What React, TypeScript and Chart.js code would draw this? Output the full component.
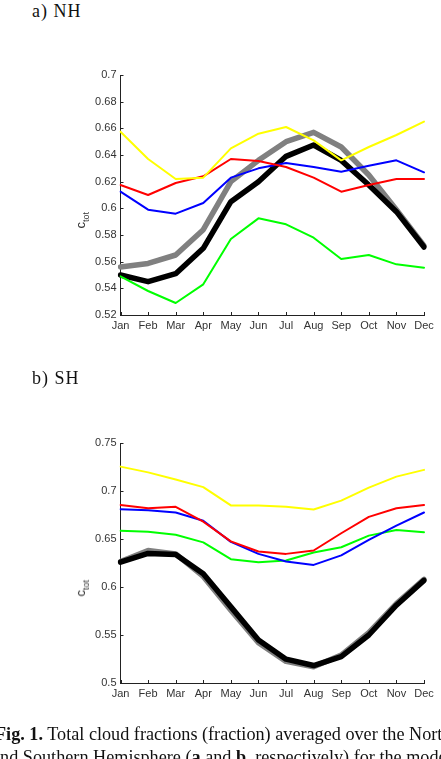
import React, { useEffect, useRef } from "react";
import { Chart, registerables } from "chart.js";

Chart.register(...registerables);

const months = ["Jan", "Feb", "Mar", "Apr", "May", "Jun", "Jul", "Aug", "Sep", "Oct", "Nov", "Dec"];

// Northern Hemisphere
const nhYellow = [0.6575, 0.637, 0.622, 0.623, 0.645, 0.656, 0.661, 0.651, 0.636, 0.646, 0.655, 0.665];
const nhRed = [0.6175, 0.61, 0.619, 0.624, 0.637, 0.6355, 0.631, 0.623, 0.6125, 0.6175, 0.622, 0.622];
const nhBlue = [0.6125, 0.599, 0.596, 0.604, 0.623, 0.63, 0.634, 0.631, 0.6275, 0.632, 0.636, 0.627];
const nhGreen = [0.549, 0.538, 0.529, 0.543, 0.577, 0.5925, 0.588, 0.578, 0.562, 0.565, 0.558, 0.5555];
const nhBlack = [0.55, 0.545, 0.551, 0.57, 0.605, 0.62, 0.639, 0.6475, 0.636, 0.6175, 0.5975, 0.571];
const nhGray = [0.556, 0.5587, 0.565, 0.584, 0.62, 0.636, 0.65, 0.657, 0.646, 0.625, 0.599, 0.572];
const nhTicks = { min: 0.52, max: 0.7, step: 0.02 };

// Southern Hemisphere
const shYellow = [0.7254, 0.7194, 0.712, 0.704, 0.685, 0.685, 0.6835, 0.6807, 0.69, 0.7035, 0.715, 0.722];
const shRed = [0.6855, 0.682, 0.6835, 0.668, 0.6475, 0.637, 0.6345, 0.638, 0.656, 0.673, 0.682, 0.6855];
const shBlue = [0.681, 0.68, 0.6776, 0.669, 0.647, 0.6345, 0.6265, 0.623, 0.633, 0.649, 0.664, 0.6776];
const shGreen = [0.6586, 0.6576, 0.6545, 0.6465, 0.629, 0.6258, 0.6276, 0.636, 0.6414, 0.6535, 0.6593, 0.657];
const shBlack = [0.6258, 0.635, 0.6338, 0.6138, 0.5793, 0.5448, 0.5248, 0.5182, 0.5275, 0.55, 0.581, 0.6069];
const shGray = [0.6265, 0.638, 0.6345, 0.611, 0.5758, 0.542, 0.5225, 0.517, 0.529, 0.5524, 0.5827, 0.608];
const shTicks = { min: 0.5, max: 0.75, step: 0.05 };

const innerTicks = {
  id: "innerTicks",
  afterDraw(chart: any) {
    const ctx = chart.ctx;
    const x = chart.scales.x;
    const y = chart.scales.y;
    const a = chart.chartArea;
    ctx.save();
    ctx.strokeStyle = "#222";
    ctx.lineWidth = 1;
    ctx.beginPath();
    y.ticks.forEach((_t: any, i: number) => {
      const py = Math.round(y.getPixelForTick(i)) + 0.5;
      ctx.moveTo(a.left, py);
      ctx.lineTo(a.left + 3, py);
    });
    x.ticks.forEach((_t: any, i: number) => {
      const px = Math.round(x.getPixelForTick(i)) + 0.5;
      ctx.moveTo(px, a.bottom);
      ctx.lineTo(px, a.bottom - 3);
    });
    ctx.stroke();
    ctx.restore();
  },
};

function ds(data: number[], color: string, width: number, order: number) {
  return {
    data,
    borderColor: color,
    backgroundColor: color,
    borderWidth: width,
    pointRadius: 0,
    tension: 0,
    fill: false,
    order,
    borderJoinStyle: "round" as const,
    borderCapStyle: "round" as const,
  };
}

function LineChart(props: {
  series: { yellow: number[]; red: number[]; blue: number[]; green: number[]; black: number[]; gray: number[] };
  ticks: { min: number; max: number; step: number };
}) {
  const ref = useRef<HTMLCanvasElement>(null);
  useEffect(() => {
    const s = props.series;
    const t = props.ticks;
    const chart = new Chart(ref.current!, {
      type: "line",
      data: {
        labels: months,
        datasets: [
          ds(s.yellow, "#ffff00", 2, 1),
          ds(s.red, "#ff0000", 2, 2),
          ds(s.blue, "#0000ff", 2, 3),
          ds(s.green, "#00ff00", 2, 4),
          ds(s.black, "#000000", 5.5, 5),
          ds(s.gray, "#808080", 5.5, 6),
        ],
      },
      options: {
        animation: false,
        responsive: false,
        maintainAspectRatio: false,
        layout: { padding: { top: 75, right: 17, left: 0, bottom: 0 } },
        plugins: { legend: { display: false }, tooltip: { enabled: false } },
        scales: {
          x: {
            type: "category",
            offset: false,
            grid: { display: false, drawTicks: false },
            border: { display: true, color: "#222", width: 1 },
            ticks: {
              color: "#333",
              font: { family: "Liberation Sans, Arial, sans-serif", size: 11 },
              padding: 4,
              maxRotation: 0,
              autoSkip: false,
            },
            afterFit: (sc: any) => {
              sc.height = 30;
            },
          },
          y: {
            min: t.min,
            max: t.max,
            grid: { display: false, drawTicks: false },
            border: { display: true, color: "#222", width: 1 },
            ticks: {
              stepSize: t.step,
              color: "#333",
              font: { family: "Liberation Sans, Arial, sans-serif", size: 11 },
              padding: 4,
              callback: (v: any) => String(Number(Number(v).toFixed(2))),
            },
            afterFit: (sc: any) => {
              sc.width = 120.5;
            },
          },
        },
      },
      plugins: [innerTicks],
    });
    return () => chart.destroy();
  }, []);
  return <canvas ref={ref} width={441} height={345} style={{ display: "block", width: 441, height: 345 }} />;
}

const titleStyle: React.CSSProperties = {
  position: "absolute",
  left: 32,
  fontFamily: "Liberation Serif, 'DejaVu Serif', serif",
  fontSize: 18,
  letterSpacing: "1px",
  lineHeight: "18px",
  color: "#111",
  whiteSpace: "nowrap",
};

const ylabelStyle: React.CSSProperties = {
  position: "absolute",
  fontFamily: "Liberation Sans, Arial, sans-serif",
  fontSize: 13,
  color: "#333",
  transform: "rotate(-90deg)",
  transformOrigin: "center center",
  whiteSpace: "nowrap",
  lineHeight: "14px",
};

export default function App() {
  return (
    <div style={{ position: "absolute", left: 0, top: 0, width: 441, height: 759, overflow: "hidden", background: "#fff" }}>
      <div style={{ ...titleStyle, top: 2 }}>a) NH</div>
      <div style={{ position: "absolute", left: 0, top: 0 }}>
        <LineChart
          series={{ yellow: nhYellow, red: nhRed, blue: nhBlue, green: nhGreen, black: nhBlack, gray: nhGray }}
          ticks={nhTicks}
        />
      </div>
      <div style={{ ...ylabelStyle, left: 75, top: 211 }}>
        c<sub style={{ fontSize: 9 }}>tot</sub>
      </div>

      <div style={{ ...titleStyle, top: 369 }}>b) SH</div>
      <div style={{ position: "absolute", left: 0, top: 368 }}>
        <LineChart
          series={{ yellow: shYellow, red: shRed, blue: shBlue, green: shGreen, black: shBlack, gray: shGray }}
          ticks={shTicks}
        />
      </div>
      <div style={{ ...ylabelStyle, left: 75, top: 579 }}>
        c<sub style={{ fontSize: 9 }}>tot</sub>
      </div>

      <div
        style={{
          position: "absolute",
          left: -5,
          top: 723,
          fontFamily: "Liberation Serif, 'Times New Roman', serif",
          fontSize: 18.2,
          lineHeight: "23px",
          color: "#111",
          whiteSpace: "nowrap",
        }}
      >
        <div>
          <b>Fig. 1.</b> Total cloud fractions (fraction) averaged over the North
        </div>
        <div style={{ marginLeft: -3 }}>
          and Southern Hemisphere (<b>a</b> and <b>b</b>, respectively) for the model
        </div>
      </div>
    </div>
  );
}
